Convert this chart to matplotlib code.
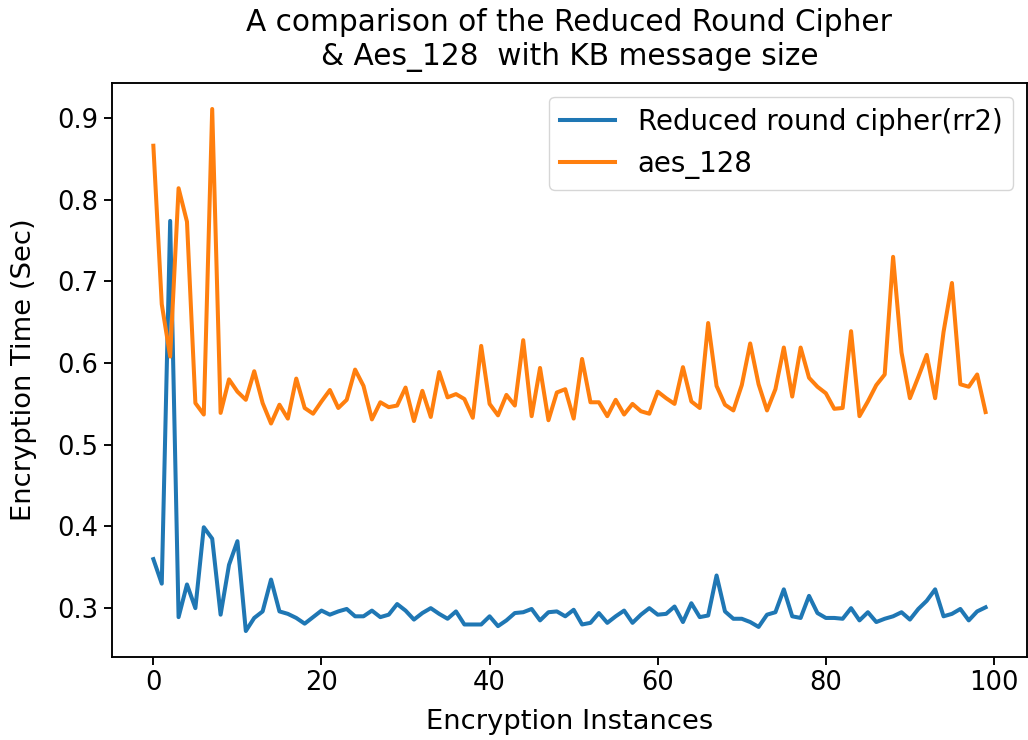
import numpy as np
import matplotlib
matplotlib.use('Agg')
import matplotlib.pyplot as plt

# Encryption time per instance (sec)
reduced_round = [0.360, 0.330, 0.774, 0.289, 0.329, 0.300, 0.399, 0.385, 0.292, 0.353,
                 0.382, 0.272, 0.288, 0.296, 0.335, 0.296, 0.293, 0.288, 0.281, 0.289,
                 0.297, 0.292, 0.296, 0.299, 0.290, 0.290, 0.297, 0.289, 0.292, 0.305,
                 0.297, 0.286, 0.294, 0.300, 0.293, 0.287, 0.296, 0.280, 0.280, 0.280,
                 0.290, 0.278, 0.285, 0.294, 0.295, 0.299, 0.285, 0.295, 0.296, 0.290,
                 0.298, 0.280, 0.282, 0.294, 0.282, 0.290, 0.297, 0.282, 0.292, 0.300,
                 0.292, 0.293, 0.302, 0.283, 0.306, 0.289, 0.291, 0.340, 0.296, 0.287,
                 0.287, 0.283, 0.277, 0.292, 0.295, 0.323, 0.290, 0.288, 0.315, 0.294,
                 0.288, 0.288, 0.287, 0.300, 0.285, 0.295, 0.283, 0.287, 0.290, 0.295,
                 0.286, 0.299, 0.309, 0.323, 0.290, 0.293, 0.299, 0.285, 0.296, 0.301]

aes_128 = [0.866, 0.672, 0.608, 0.814, 0.773, 0.551, 0.537, 0.911, 0.539, 0.580,
           0.565, 0.555, 0.590, 0.551, 0.526, 0.549, 0.532, 0.581, 0.545, 0.538,
           0.553, 0.567, 0.545, 0.555, 0.592, 0.572, 0.531, 0.552, 0.546, 0.548,
           0.570, 0.529, 0.566, 0.534, 0.589, 0.558, 0.562, 0.556, 0.533, 0.621,
           0.550, 0.536, 0.561, 0.548, 0.628, 0.535, 0.594, 0.530, 0.564, 0.568,
           0.532, 0.605, 0.552, 0.552, 0.535, 0.555, 0.537, 0.550, 0.541, 0.538,
           0.565, 0.557, 0.550, 0.595, 0.553, 0.545, 0.649, 0.572, 0.549, 0.542,
           0.573, 0.624, 0.574, 0.542, 0.568, 0.619, 0.559, 0.619, 0.582, 0.571,
           0.563, 0.544, 0.545, 0.639, 0.535, 0.553, 0.573, 0.586, 0.730, 0.613,
           0.557, 0.583, 0.610, 0.557, 0.638, 0.698, 0.574, 0.571, 0.586, 0.540]

instances = np.arange(len(aes_128))

s = 1.7  # scale factor for the enlarged look
plt.rcParams['font.family'] = 'DejaVu Sans'
plt.rcParams['font.size'] = 19.7
plt.rcParams['xtick.labelsize'] = 18.5
plt.rcParams['ytick.labelsize'] = 18.5
plt.rcParams['legend.fontsize'] = 19.9
plt.rcParams['axes.linewidth'] = 0.8 * s
plt.rcParams['xtick.major.size'] = 3.5 * s
plt.rcParams['ytick.major.size'] = 3.5 * s
plt.rcParams['xtick.major.width'] = 0.8 * s
plt.rcParams['ytick.major.width'] = 0.8 * s

fig = plt.figure(figsize=(10.28, 7.4), dpi=100)
ax = fig.add_axes([0.1087, 0.112, 0.8905, 0.776])

ax.plot(instances, reduced_round, color='#1f77b4', linewidth=2.9, label='Reduced round cipher(rr2)')
ax.plot(instances, aes_128, color='#ff7f0e', linewidth=2.9, label='aes_128')

ax.set_title('A comparison of the Reduced Round Cipher\n& Aes_128  with KB message size',
             fontsize=21.3, pad=13)
ax.set_xlabel('Encryption Instances', labelpad=9)
ax.set_ylabel('Encryption Time (Sec)', labelpad=15)
ax.legend(loc='upper right')

fig.savefig('out.png', dpi=100)
